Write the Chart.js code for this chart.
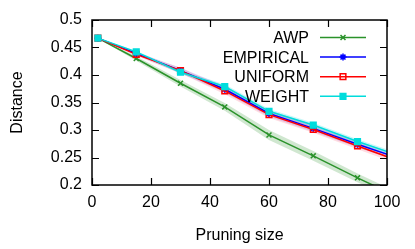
<!DOCTYPE html>
<html>
<head>
<meta charset="utf-8">
<script src="https://cdn.jsdelivr.net/npm/chart.js@4/dist/chart.umd.min.js"></script>
<style>
  html, body { margin: 0; padding: 0; background: #fff; }
  #wrap { width: 415px; height: 249px; }
</style>
</head>
<body>
<div id="wrap"><canvas id="chart" width="415" height="249"></canvas></div>
<script>
// pruning sizes (last one lies past the axis and is clipped)
const sizes = [2, 15, 30, 45, 60, 75, 90, 105];

const awp       = [0.467, 0.430, 0.385, 0.342, 0.291, 0.253, 0.213, 0.175];
const empirical = [0.467, 0.439, 0.408, 0.374, 0.330, 0.303, 0.274, 0.247];
const uniform   = [0.467, 0.4375, 0.408, 0.371, 0.328, 0.301, 0.271, 0.242];
const weight    = [0.467, 0.442, 0.405, 0.379, 0.334, 0.309, 0.279, 0.252];

// half width of the shaded bands
const awpSpread       = [0, 0.004, 0.006, 0.007, 0.009, 0.009, 0.008, 0.008];
const empiricalSpread = [0, 0.003, 0.005, 0.006, 0.006, 0.006, 0.006, 0.006];
const uniformSpread   = [0, 0.003, 0.005, 0.006, 0.006, 0.006, 0.006, 0.006];
const weightSpread    = [0, 0.002, 0.003, 0.004, 0.004, 0.004, 0.004, 0.004];

const xTicks = [0, 20, 40, 60, 80, 100];
const yTicks = [0.2, 0.25, 0.3, 0.35, 0.4, 0.45, 0.5];

const FONT = "'Liberation Sans', Arial, sans-serif";

const series = [
  { label: "AWP", data: awp, spread: awpSpread, color: "#2a922a", band: "rgba(42,146,42,0.22)", style: "crossRot", fill: false },
  { label: "EMPIRICAL", data: empirical, spread: empiricalSpread, color: "#0000ff", band: "rgba(90,60,220,0.18)", style: "star", fill: true },
  { label: "UNIFORM", data: uniform, spread: uniformSpread, color: "#ff0000", band: "rgba(255,60,90,0.18)", style: "rect", fill: false },
  { label: "WEIGHT", data: weight, spread: weightSpread, color: "#00dcdc", band: "rgba(0,220,220,0.22)", style: "rect", fill: true },
];

const pts = (vals) => vals.map((v, i) => ({ x: sizes[i], y: v }));

const datasets = [];
series.forEach((s) => {
  datasets.push({
    label: s.label + " hi",
    data: s.data.map((v, i) => ({ x: sizes[i], y: v + s.spread[i] })),
    borderWidth: 0, pointRadius: 0, fill: false, order: 10,
  });
  datasets.push({
    label: s.label + " lo",
    data: s.data.map((v, i) => ({ x: sizes[i], y: v - s.spread[i] })),
    borderWidth: 0, pointRadius: 0, fill: "-1", backgroundColor: s.band, order: 10,
  });
});
series.forEach((s, k) => {
  datasets.push({
    label: s.label,
    data: pts(s.data),
    borderColor: s.color,
    backgroundColor: s.fill ? s.color : "rgba(0,0,0,0)",
    borderWidth: 1.5,
    pointStyle: s.style,
    pointRadius: s.style === "rect" ? 4 : 3.5,
    pointBorderWidth: 1.5,
    fill: false,
    order: 4 - k,
  });
});

// gnuplot style: inward ticks on all four sides + legend on the right
const framePlugin = {
  id: "frame",
  afterDraw(chart) {
    const { ctx, chartArea: a, scales } = chart;
    ctx.save();
    ctx.strokeStyle = "#000";
    ctx.lineWidth = 1.5;
    ctx.strokeRect(a.left, a.top, a.right - a.left, a.bottom - a.top);
    ctx.lineWidth = 1.2;
    const len = 7;
    xTicks.forEach((v) => {
      const x = Math.round(scales.x.getPixelForValue(v)) + 0.5;
      ctx.beginPath();
      ctx.moveTo(x, a.bottom); ctx.lineTo(x, a.bottom - len);
      ctx.moveTo(x, a.top); ctx.lineTo(x, a.top + len);
      ctx.stroke();
    });
    yTicks.forEach((v) => {
      const y = Math.round(scales.y.getPixelForValue(v)) + 0.5;
      ctx.beginPath();
      ctx.moveTo(a.left, y); ctx.lineTo(a.left + len, y);
      ctx.moveTo(a.right, y); ctx.lineTo(a.right - len, y);
      ctx.stroke();
    });

    // legend
    ctx.font = "16px " + FONT;
    ctx.textAlign = "right";
    ctx.textBaseline = "middle";
    series.forEach((s, i) => {
      const y = 37.5 + i * 19.6;
      ctx.fillStyle = "#000";
      ctx.fillText(s.label, 309, y + 1);
      ctx.strokeStyle = s.color;
      ctx.lineWidth = 1.5;
      ctx.beginPath();
      ctx.moveTo(320, y); ctx.lineTo(366, y);
      ctx.stroke();
      ctx.fillStyle = s.fill ? s.color : "rgba(0,0,0,0)";
      Chart.helpers.drawPoint(ctx, {
        pointStyle: s.style,
        radius: s.style === "rect" ? 4 : 3.5,
        borderWidth: 1.5,
      }, 343, y);
    });
    ctx.restore();
  },
};

new Chart(document.getElementById("chart"), {
  type: "line",
  data: { datasets },
  options: {
    responsive: false,
    animation: false,
    layout: { padding: { top: 20, right: 28, left: 8, bottom: 4 } },
    plugins: {
      legend: { display: false },
      tooltip: { enabled: false },
      filler: { propagate: false },
    },
    scales: {
      x: {
        type: "linear", min: 0, max: 100,
        afterBuildTicks: (sc) => { sc.ticks = xTicks.map((v) => ({ value: v })); },
        afterFit: (sc) => { sc.height = 60; },
        grid: { display: false, drawTicks: false },
        border: { display: false },
        ticks: { color: "#000", font: { family: FONT, size: 16 }, padding: 8, maxRotation: 0 },
        title: { display: true, text: "Pruning size", color: "#000", font: { family: FONT, size: 16 }, padding: { top: 2, bottom: 0 } },
      },
      y: {
        min: 0.2, max: 0.5,
        afterBuildTicks: (sc) => { sc.ticks = yTicks.map((v) => ({ value: v })); },
        afterFit: (sc) => { sc.width = 84; },
        grid: { display: false, drawTicks: false },
        border: { display: false },
        ticks: { color: "#000", font: { family: FONT, size: 16 }, padding: 10, callback: (v) => String(+v.toFixed(2)) },
        title: { display: true, text: "Distance", color: "#000", font: { family: FONT, size: 16 }, padding: { top: 0, bottom: 0 } },
      },
    },
  },
  plugins: [framePlugin],
});
</script>
</body>
</html>
